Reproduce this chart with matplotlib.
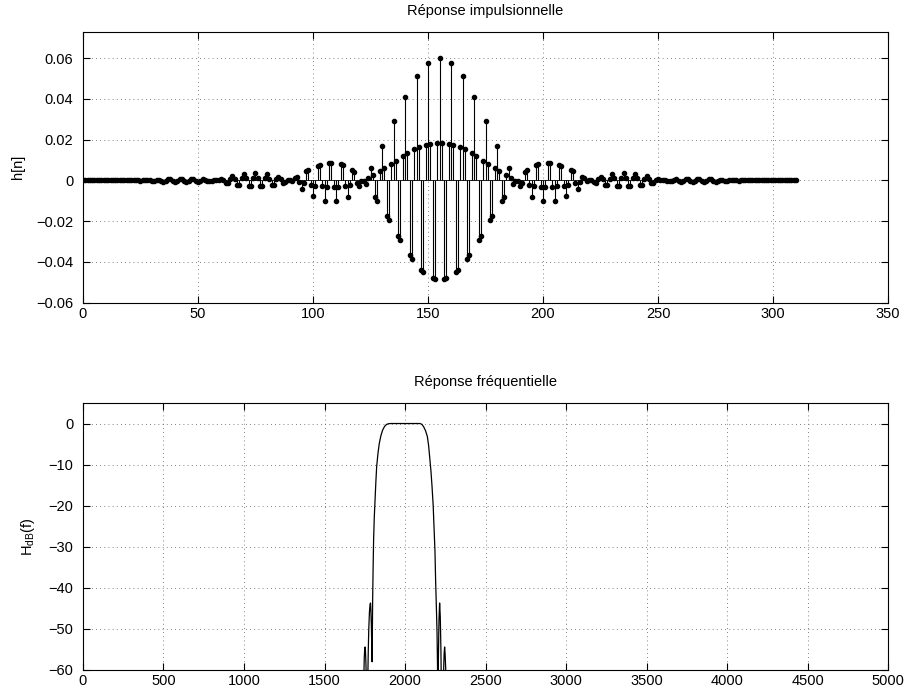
import numpy as np
import matplotlib
matplotlib.use("Agg")
import matplotlib.pyplot as plt

plt.rcParams['font.family'] = ['Liberation Sans', 'DejaVu Sans']
plt.rcParams['font.size'] = 10.5
plt.rcParams['mathtext.fontset'] = 'custom'
plt.rcParams['mathtext.rm'] = 'Liberation Sans'
plt.rcParams['axes.unicode_minus'] = True

# Réponse impulsionnelle h[n], n = 0..310
n = np.arange(311)
h = [
    0, 0, 0, 0, 0, 0, 0, 0, 0, 0,
    0, 0, 0, 0, 0, 0, 0, 0, 0, 0,
    0, 0, 0, 0, 0, -0.0001, 0.0000, 0.0001, 0.0001, 0.0000,
    -0.0002, -0.0001, 0.0003, 0.0004, -0.0002, -0.0007, -0.0002, 0.0006, 0.0007, -0.0003,
    -0.0010, -0.0003, 0.0008, 0.0008, -0.0003, -0.0010, -0.0003, 0.0007, 0.0007, -0.0002,
    -0.0008, -0.0002, 0.0005, 0.0004, -0.0001, -0.0003, -0.0001, 0.0001, 0.0000, 0.0001,
    0.0007, 0.0003, -0.0011, -0.0013, 0.0006, 0.0022, 0.0008, -0.0022, -0.0023, 0.0010,
    0.0033, 0.0011, -0.0028, -0.0029, 0.0011, 0.0036, 0.0011, -0.0028, -0.0028, 0.0010,
    0.0031, 0.0009, -0.0022, -0.0020, 0.0007, 0.0019, 0.0005, -0.0011, -0.0008, 0.0002,
    0.0003, -0.0002, 0.0011, 0.0019, -0.0010, -0.0040, -0.0015, 0.0044, 0.0049, -0.0021,
    -0.0074, -0.0025, 0.0070, 0.0074, -0.0029, -0.0099, -0.0032, 0.0084, 0.0085, -0.0032,
    -0.0103, -0.0031, 0.0079, 0.0076, -0.0027, -0.0081, -0.0023, 0.0051, 0.0042, -0.0012,
    -0.0025, -0.0003, -0.0005, -0.0019, 0.0013, 0.0060, 0.0025, -0.0082, -0.0100, 0.0045,
    0.0169, 0.0060, -0.0176, -0.0195, 0.0082, 0.0290, 0.0097, -0.0274, -0.0294, 0.0120,
    0.0410, 0.0133, -0.0366, -0.0383, 0.0152, 0.0510, 0.0163, -0.0439, -0.0450, 0.0175,
    0.0577, 0.0181, -0.0478, -0.0482, 0.0185, 0.0600,
    0.0185, -0.0482, -0.0478, 0.0181, 0.0577, 0.0175, -0.0450, -0.0439, 0.0163, 0.0510,
    0.0152, -0.0383, -0.0366, 0.0133, 0.0410, 0.0120, -0.0294, -0.0274, 0.0097, 0.0290,
    0.0082, -0.0195, -0.0176, 0.0060, 0.0169, 0.0045, -0.0100, -0.0082, 0.0025, 0.0060,
    0.0013, -0.0019, -0.0005, -0.0003, -0.0025, -0.0012, 0.0042, 0.0051, -0.0023, -0.0081,
    -0.0027, 0.0076, 0.0079, -0.0031, -0.0103, -0.0032, 0.0085, 0.0084, -0.0032, -0.0099,
    -0.0029, 0.0074, 0.0070, -0.0025, -0.0074, -0.0021, 0.0049, 0.0044, -0.0015, -0.0040,
    -0.0010, 0.0019, 0.0011, -0.0002, 0.0003, 0.0002, -0.0008, -0.0011, 0.0005, 0.0019,
    0.0007, -0.0020, -0.0022, 0.0009, 0.0031, 0.0010, -0.0028, -0.0028, 0.0011, 0.0036,
    0.0011, -0.0029, -0.0028, 0.0011, 0.0033, 0.0010, -0.0023, -0.0022, 0.0008, 0.0022,
    0.0006, -0.0013, -0.0011, 0.0003, 0.0007, 0.0001, 0.0000, 0.0001, -0.0001, -0.0003,
    -0.0001, 0.0004, 0.0005, -0.0002, -0.0008, -0.0002, 0.0007, 0.0007, -0.0003, -0.0010,
    -0.0003, 0.0008, 0.0008, -0.0003, -0.0010, -0.0003, 0.0007, 0.0006, -0.0002, -0.0007,
    -0.0002, 0.0004, 0.0003, -0.0001, -0.0002, 0.0000, 0.0001, 0.0001, 0.0000, -0.0001,
    0, 0, 0, 0, 0, 0, 0, 0, 0, 0,
    0, 0, 0, 0, 0, 0, 0, 0, 0, 0,
    0, 0, 0, 0, 0,
]

# Réponse fréquentielle (dB); < -60 dB hors cadre
freq = [0, 1738, 1744, 1747, 1750, 1752, 1754, 1757, 1760, 1765,
        1769, 1772, 1775, 1779, 1783, 1786, 1788, 1791, 1794, 1795.5,
        1797, 1799, 1802, 1805, 1809, 1814, 1819, 1824, 1832, 1840,
        1850, 1861, 1873, 1886, 1900, 1910, 2000, 2093, 2105, 2116,
        2128, 2139, 2147, 2153, 2161, 2168, 2175, 2180, 2186, 2190,
        2195, 2199, 2203, 2205, 2207, 2211, 2215, 2219, 2223, 2226,
        2233, 2240, 2243, 2246, 2249, 2253, 2256, 2262, 5000]
H_dB = [-90, -80, -62, -57, -54.8, -54.4, -55, -58, -63, -75,
        -62, -55, -50, -46, -44, -43.7, -45.5, -49, -55, -58,
        -52, -43, -35, -28.3, -23, -18.6, -14.2, -10.5, -7.3, -4.9,
        -3.0, -1.6, -0.7, -0.2, -0.03, 0, 0, 0, -0.2, -0.8,
        -1.8, -3.2, -5.5, -8.1, -11.5, -15.4, -20, -25, -31, -38,
        -45, -51, -62, -70, -58, -48, -43.7, -47, -55, -65,
        -75, -60, -56, -54.4, -56, -60, -70, -80, -90]

x1_ticks = [0, 50, 100, 150, 200, 250, 300, 350]
y1_ticks = [-0.06, -0.04, -0.02, 0, 0.02, 0.04, 0.06]
y1_labels = ['\u22120.06', '\u22120.04', '\u22120.02', '0', '0.02', '0.04', '0.06']
x2_ticks = [0, 500, 1000, 1500, 2000, 2500, 3000, 3500, 4000, 4500, 5000]
y2_ticks = [-60, -50, -40, -30, -20, -10, 0]
y2_labels = ['\u221260', '\u221250', '\u221240', '\u221230', '\u221220', '\u221210', '0']

fig = plt.figure(figsize=(9.08, 6.96), dpi=100)
ax1 = fig.add_axes([0.0914, 0.5650, 0.8866, 0.3896])
ax2 = fig.add_axes([0.0914, 0.0374, 0.8866, 0.3836])

def matlab_style(ax):
    ax.grid(True, color='0.35', linestyle=(0, (1, 4)), linewidth=0.6)
    ax.tick_params(direction='in', top=True, right=True, length=5, width=0.8,
                   labelsize=10.5)
    ax.tick_params(axis='x', pad=3)
    ax.tick_params(axis='y', pad=7)
    for s in ax.spines.values():
        s.set_linewidth(0.8)

markerline, stemlines, baseline = ax1.stem(n, h, linefmt='k-', markerfmt='ko', basefmt='k-')
markerline.set_markersize(3)
stemlines.set_linewidth(0.8)
baseline.set_linewidth(0.6)
ax1.set_xlim(0, 350)
ax1.set_ylim(-0.06, 0.073)
ax1.set_xticks(x1_ticks)
ax1.set_yticks(y1_ticks)
ax1.set_yticklabels(y1_labels)
ax1.set_ylabel('h[n]', labelpad=8)
ax1.set_title('Réponse impulsionnelle', fontsize=10.5, pad=12)
matlab_style(ax1)

ax2.plot(freq, H_dB, 'k-', linewidth=0.9)
ax2.set_xlim(0, 5000)
ax2.set_ylim(-60, 5)
ax2.set_xticks(x2_ticks)
ax2.set_yticks(y2_ticks)
ax2.set_yticklabels(y2_labels)
ax2.set_ylabel(r'H$_{\mathrm{dB}}$(f)', labelpad=8)
ax2.set_title('Réponse fréquentielle', fontsize=10.5, pad=12)
matlab_style(ax2)

fig.savefig('out.png', dpi=100)
